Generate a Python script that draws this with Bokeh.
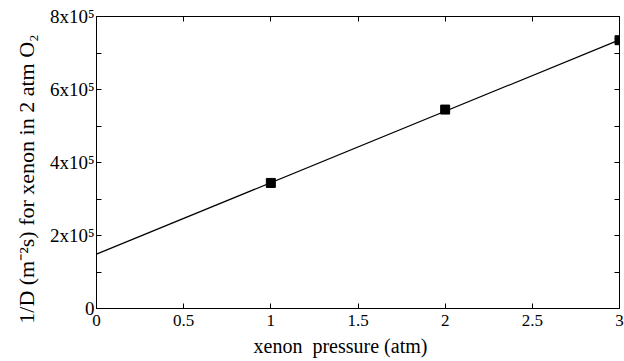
from bokeh.plotting import figure
from bokeh.models import LinearAxis, FixedTicker, Range1d
from bokeh.embed import file_html
from bokeh.resources import INLINE

# data
pressure = [1, 2, 3]
inv_D = [3.44e5, 5.45e5, 7.35e5]
fit_x = [0, 3]
fit_y = [1.49e5, 7.36e5]

x_ticks = [0, 0.5, 1, 1.5, 2, 2.5, 3]
x_tick_labels = ["0", "0.5", "1", "1.5", "2", "2.5", "3"]
y_ticks = [0, 2e5, 4e5, 6e5, 8e5]
y_minor = [1e5, 3e5, 5e5, 7e5]
y_tick_labels = ["0", "2x10\u2075", "4x10\u2075", "6x10\u2075", "8x10\u2075"]

FONT = "Times New Roman"
NB = "\u00a0"

p = figure(width=624, height=361, output_backend="svg", toolbar_location=None,
           x_range=Range1d(0, 3), y_range=Range1d(0, 8e5),
           min_border_left=96, min_border_right=5, min_border_top=16, min_border_bottom=53)
p.xgrid.visible = False
p.ygrid.visible = False
p.outline_line_color = "black"
p.background_fill_color = "white"
p.border_fill_color = "white"

p.line(fit_x, fit_y, line_color="black", line_width=1.2)
p.scatter(pressure, inv_D, marker="square", size=9, color="black")

def style(ax, labels=True):
    ax.axis_line_color = "black"
    ax.major_tick_in = 5
    ax.major_tick_out = 0
    ax.minor_tick_in = 5
    ax.minor_tick_out = 0
    ax.major_tick_line_color = "black"
    ax.minor_tick_line_color = "black"
    ax.major_label_text_font = FONT
    ax.major_label_text_font_size = "17px"
    ax.major_label_text_color = "black"
    ax.axis_label_text_font = FONT
    ax.axis_label_text_font_size = "20px"
    ax.axis_label_text_font_style = "normal"
    ax.axis_label_text_color = "black"
    if not labels:
        ax.major_label_text_font_size = "0px"
        ax.major_label_text_alpha = 0

xt = FixedTicker(ticks=x_ticks, minor_ticks=[])
yt = FixedTicker(ticks=y_ticks, minor_ticks=y_minor)

xa = p.xaxis[0]
xa.ticker = xt
xa.major_label_overrides = {t: l for t, l in zip(x_ticks, x_tick_labels)}
xa.axis_label = "xenon" + NB + NB + "pressure (atm)" + NB * 7
style(xa)
xa.major_label_standoff = 6
xa.axis_label_standoff = 6

ya = p.yaxis[0]
ya.ticker = yt
ya.major_label_overrides = {t: l for t, l in zip(y_ticks, y_tick_labels)}
ya.axis_label = "1/D (m\u207b\u00b2s) for xenon in 2 atm O\u2082" + NB * 6
style(ya)
ya.major_label_text_font_size = "19px"
ya.axis_label_text_font_size = "22px"
ya.major_label_standoff = 2
ya.axis_label_standoff = 8
ya.major_label_orientation = "horizontal"

top = LinearAxis(ticker=FixedTicker(ticks=x_ticks, minor_ticks=[]))
style(top, labels=False)
p.add_layout(top, "above")
right = LinearAxis(ticker=FixedTicker(ticks=y_ticks, minor_ticks=y_minor))
style(right, labels=False)
p.add_layout(right, "right")

open("out.html", "w").write(file_html(p, INLINE))
